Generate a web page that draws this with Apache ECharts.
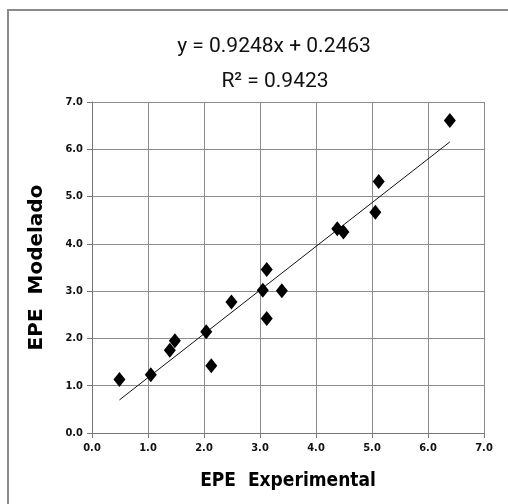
<!DOCTYPE html>
<html>
<head>
<meta charset="utf-8">
<script src="https://cdn.jsdelivr.net/npm/echarts@6/dist/echarts.min.js"></script>
<style>
  html, body { margin: 0; padding: 0; background: #fff; }
  #chart { width: 508px; height: 504px; }
</style>
</head>
<body>
<div id="chart"></div>
<script>
// measured vs modelled EPE
var epeExperimental = [0.49, 1.05, 1.39, 1.48, 2.04, 2.13, 2.49, 3.05, 3.12, 3.12, 3.39, 4.38, 4.49, 5.06, 5.12, 6.39];
var epeModelado     = [1.13, 1.23, 1.75, 1.95, 2.14, 1.42, 2.77, 3.02, 3.46, 2.42, 3.01, 4.32, 4.25, 4.67, 5.32, 6.61];
var trendSlope = 0.9248;
var trendIntercept = 0.2463;
var rSquared = 0.9423;
var axisTicks = ['0.0', '1.0', '2.0', '3.0', '4.0', '5.0', '6.0', '7.0'];

var points = epeExperimental.map(function (x, i) { return [x, epeModelado[i]]; });
var xMin = Math.min.apply(null, epeExperimental);
var xMax = Math.max.apply(null, epeExperimental);
var trendLine = [
  [xMin, trendSlope * xMin + trendIntercept],
  [xMax, trendSlope * xMax + trendIntercept]
];

var tickFont = { fontFamily: 'DejaVu Sans Condensed', fontWeight: 'bold', fontSize: 11, color: '#111' };

var myChart = echarts.init(document.getElementById('chart'), null, { renderer: 'canvas' });
var option = {
  backgroundColor: '#fff',
  animation: false,
  title: [{
    text: 'y = ' + trendSlope + 'x + ' + trendIntercept,
    left: 269, top: 31, textAlign: 'center',
    textStyle: { fontFamily: 'Roboto', fontWeight: 'normal', fontSize: 21, color: '#111' }
  }, {
    text: 'R\u00b2 = ' + rSquared,
    left: 270, top: 66, textAlign: 'center',
    textStyle: { fontFamily: 'Roboto', fontWeight: 'normal', fontSize: 21, color: '#111' }
  }],
  graphic: [{
    type: 'polyline',
    shape: { points: [[8, 520], [8, 10], [520, 10]] },
    style: { stroke: '#8a8a8a', lineWidth: 2, fill: null },
    silent: true
  }],
  grid: { left: 92, right: 24, top: 102, bottom: 71 },
  xAxis: {
    type: 'value', min: 0, max: 7, interval: 1,
    name: 'EPE  Experimental', nameLocation: 'middle', nameGap: 39,
    nameTextStyle: { fontFamily: 'DejaVu Sans Condensed', fontWeight: 'bold', fontSize: 19, color: '#000' },
    axisLine: { show: true, onZero: false, lineStyle: { color: '#777', width: 1 } },
    axisTick: { show: true, inside: false, length: 5, lineStyle: { color: '#777' } },
    axisLabel: Object.assign({ margin: 10, formatter: function (v) { return axisTicks[Math.round(v)]; } }, tickFont),
    splitLine: { show: true, lineStyle: { color: '#8c8c8c', width: 1 } }
  },
  yAxis: {
    type: 'value', min: 0, max: 7, interval: 1,
    name: 'EPE  Modelado', nameLocation: 'middle', nameGap: 45, nameRotate: 90,
    nameTextStyle: { fontFamily: 'DejaVu Sans', fontWeight: 'bold', fontSize: 20, color: '#000' },
    axisLine: { show: true, onZero: false, lineStyle: { color: '#777', width: 1 } },
    axisTick: { show: true, inside: false, length: 5, lineStyle: { color: '#777' } },
    axisLabel: Object.assign({ margin: 9, formatter: function (v) { return axisTicks[Math.round(v)]; } }, tickFont),
    splitLine: { show: true, lineStyle: { color: '#8c8c8c', width: 1 } }
  },
  series: [{
    name: 'trend',
    type: 'line',
    data: trendLine,
    symbol: 'none',
    lineStyle: { color: '#111', width: 1 },
    silent: true,
    z: 2
  }, {
    name: 'EPE',
    type: 'scatter',
    data: points,
    symbol: 'diamond',
    symbolSize: [12, 15],
    itemStyle: { color: '#000', opacity: 1 },
    z: 3
  }]
};
myChart.setOption(option);
</script>
</body>
</html>
